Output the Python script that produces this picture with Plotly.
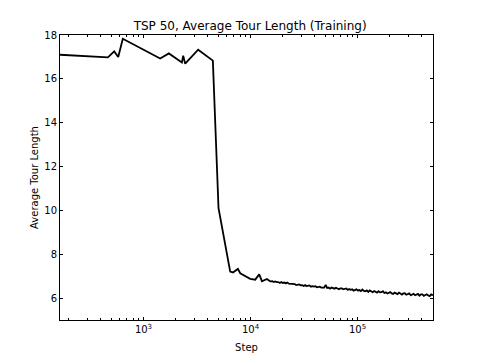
import plotly.graph_objects as go
import math

# --- data ---
steps_early = [166, 465, 533, 581, 641, 1432, 1727, 2285, 2350, 2454, 3243, 4449,
               5025, 5520, 5890, 6460, 6860, 7620, 8020, 9000, 9930, 11070, 12050,
               12790, 14230, 15290]
tour_early = [17.10, 16.98, 17.25, 17.00, 17.83, 16.93, 17.16, 16.75, 17.06, 16.69,
              17.33, 16.83, 10.10, 8.97, 8.20, 7.21, 7.17, 7.33, 7.13, 6.98, 6.88,
              6.84, 7.08, 6.77, 6.87, 6.76]

steps_tail = [16000, 16500, 17000, 17600, 18200, 18800, 19400, 20000, 20700, 21400,
              22100, 22800, 23500, 24300, 25100, 25900, 26700, 27600, 28500, 29400,
              30400, 31400, 32400, 33400, 34500, 35600, 36700, 37900, 39100, 40400,
              41700, 43000, 44400, 45800, 47300, 48800, 50400, 52000, 53700, 55400,
              57200, 59000, 60900, 62900, 64900, 67000, 69100, 71300, 73600, 76000,
              78400, 80900, 83500, 86200, 89000, 91800, 94800, 97800, 101000, 104000,
              107500, 111000, 114500, 118000, 122000, 126000, 130000, 134000, 138500, 143000,
              147500, 152000, 157000, 162000, 167000, 172500, 178000, 184000, 190000, 196000,
              202000, 208500, 215000, 222000, 229000, 236500, 244000, 252000, 260000, 268000,
              276500, 285500, 294500, 304000, 314000, 324000, 334000, 345000, 356000, 367000,
              379000, 391000, 403500, 416500, 430000, 443500, 458000, 472500, 487500, 503000,
              507000]
tour_tail = [6.77, 6.73, 6.76, 6.73, 6.73, 6.69, 6.73, 6.69, 6.71, 6.67,
             6.71, 6.66, 6.66, 6.63, 6.66, 6.64, 6.59, 6.62, 6.62, 6.58,
             6.59, 6.55, 6.59, 6.55, 6.57, 6.58, 6.52, 6.54, 6.52, 6.54,
             6.49, 6.52, 6.52, 6.48, 6.49, 6.48, 6.60, 6.46, 6.48, 6.43,
             6.48, 6.45, 6.43, 6.47, 6.43, 6.40, 6.44, 6.44, 6.40, 6.41,
             6.44, 6.37, 6.41, 6.38, 6.40, 6.34, 6.37, 6.40, 6.34, 6.37,
             6.32, 6.39, 6.33, 6.31, 6.35, 6.28, 6.35, 6.31, 6.27, 6.32,
             6.30, 6.25, 6.31, 6.26, 6.27, 6.31, 6.23, 6.26, 6.21, 6.26,
             6.27, 6.21, 6.19, 6.25, 6.22, 6.18, 6.25, 6.19, 6.16, 6.21,
             6.22, 6.15, 6.18, 6.21, 6.13, 6.18, 6.19, 6.13, 6.15, 6.19,
             6.11, 6.17, 6.17, 6.10, 6.14, 6.17, 6.12, 6.09, 6.17, 6.12,
             6.13]

x_major = [1e3, 1e4, 1e5]
x_major_text = ["10<sup>3</sup>", "10<sup>4</sup>", "10<sup>5</sup>"]
x_minor = [m * 10 ** k for k in (2, 3, 4, 5) for m in range(2, 10)]
y_ticks = [6, 8, 10, 12, 14, 16, 18]

steps = steps_early + steps_tail
tour = tour_early + tour_tail

font = "DejaVu Sans"
fig = go.Figure()
fig.add_trace(go.Scatter(x=steps, y=tour, mode="lines",
                         line=dict(color="black", width=1.8), showlegend=False))

axis_common = dict(showline=True, linecolor="black", linewidth=1, mirror="allticks",
                   ticks="inside", ticklen=3, tickcolor="black", showgrid=False,
                   zeroline=False, automargin=False,
                   tickfont=dict(family=font, size=10, color="black"))

# the page body adds an 8px offset, so the figure is 8px smaller and margins shifted
fig.update_layout(
    width=472, height=348,
    margin=dict(l=52, r=47, t=27, b=36, autoexpand=False),
    paper_bgcolor="white", plot_bgcolor="white",
    font=dict(family=font, color="black"),
    title=dict(text="TSP 50, Average Tour Length (Training)", x=0.513, xanchor="center",
               y=1 - 18 / 348, yanchor="middle", yref="container",
               font=dict(family=font, size=12, color="black")),
    xaxis=dict(type="log", range=[math.log10(166), math.log10(507000)],
               tickmode="array", tickvals=x_major, ticktext=x_major_text,
               minor=dict(tickmode="array", tickvals=x_minor, ticks="inside",
                          ticklen=2, tickcolor="black", showgrid=False),
               title=dict(text="Step", font=dict(family=font, size=10), standoff=9),
               **axis_common),
    yaxis=dict(range=[5, 18], tickmode="array", tickvals=y_ticks,
               title=dict(text="Average Tour Length", font=dict(family=font, size=10), standoff=3),
               **axis_common),
)

fig.write_html("out.html")
